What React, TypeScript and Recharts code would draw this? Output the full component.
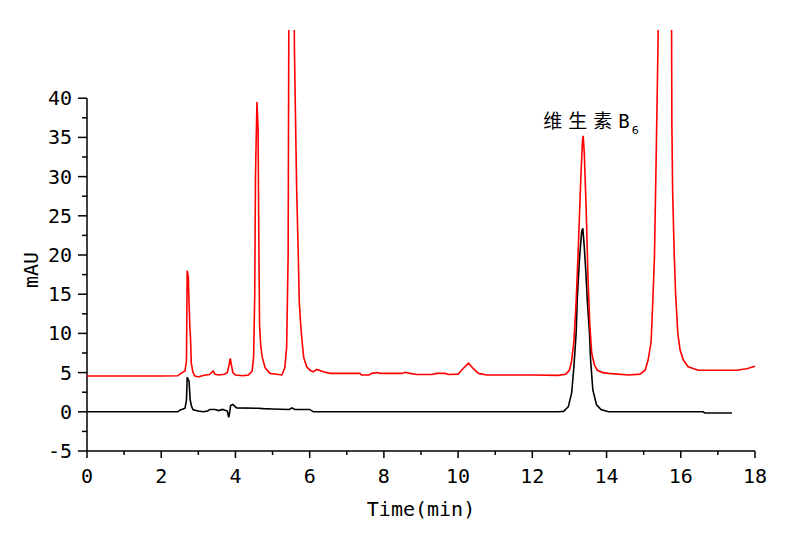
import React from "react";
import { LineChart, Line, XAxis, YAxis, ReferenceLine, ReferenceDot } from "recharts";

// Red trace (sample) — time in min, absorbance in mAU
const redTime = [0, 1.0, 2.0, 2.45, 2.5, 2.64, 2.68, 2.7, 2.73, 2.74, 2.77, 2.79, 2.81, 2.85, 2.9, 3.0, 3.1, 3.2, 3.3, 3.4, 3.45, 3.55, 3.7, 3.78, 3.83, 3.86, 3.89, 3.93, 4.0, 4.2, 4.35, 4.45, 4.49, 4.52, 4.54, 4.56, 4.58, 4.61, 4.63, 4.65, 4.68, 4.72, 4.8, 4.93, 5.1, 5.25, 5.33, 5.38, 5.42, 5.44, 5.5, 5.56, 5.59, 5.65, 5.69, 5.72, 5.76, 5.8, 5.84, 5.92, 6.01, 6.1, 6.19, 6.37, 6.55, 7.35, 7.4, 7.6, 7.67, 7.82, 7.9, 8.48, 8.57, 8.7, 8.88, 9.3, 9.42, 9.65, 9.74, 10.0, 10.13, 10.28, 10.41, 10.55, 10.77, 12.0, 12.7, 12.9, 13.0, 13.06, 13.12, 13.18, 13.24, 13.3, 13.35, 13.37, 13.4, 13.45, 13.5, 13.55, 13.6, 13.67, 13.75, 13.9, 14.05, 14.3, 14.6, 14.9, 15.04, 15.12, 15.2, 15.24, 15.29, 15.33, 15.38, 15.42, 15.55, 15.7, 15.75, 15.76, 15.78, 15.82, 15.86, 15.92, 15.98, 16.07, 16.2, 16.47, 17.5, 17.78, 17.95, 18.0];
const redValue = [4.57, 4.57, 4.57, 4.6, 4.8, 5.2, 6.5, 18.0, 17.2, 15.3, 11.0, 9.4, 6.2, 5.1, 4.6, 4.45, 4.6, 4.7, 4.75, 5.2, 4.8, 4.7, 4.8, 5.0, 6.0, 6.8, 6.0, 5.0, 4.7, 4.6, 4.7, 5.2, 7.0, 15, 30, 35, 39.5, 36, 22, 11, 8.5, 7.0, 5.6, 4.9, 4.8, 4.7, 5.6, 8.3, 20, 52, 70, 62, 46, 28.3, 20.6, 14, 11, 8.8, 6.9, 5.75, 5.3, 5.1, 5.4, 5.1, 4.9, 4.9, 4.7, 4.7, 4.9, 5.0, 4.9, 4.9, 5.05, 4.9, 4.75, 4.75, 4.9, 4.9, 4.75, 4.8, 5.5, 6.2, 5.5, 4.9, 4.7, 4.7, 4.65, 4.8, 5.3, 6.5, 9, 14, 21, 29, 34.5, 35.2, 33, 26, 17, 11, 7.5, 6, 5.3, 5.0, 4.9, 4.8, 4.7, 4.8, 5.3, 6.6, 8.9, 13.4, 19.6, 30.5, 44.9, 58, 80, 62, 52, 36.8, 28.3, 20.6, 15.1, 10.0, 7.9, 6.6, 5.75, 5.3, 5.3, 5.5, 5.75, 5.8];

// Black trace (standard)
const blackTime = [0, 2.45, 2.5, 2.64, 2.68, 2.7, 2.75, 2.78, 2.82, 2.86, 3.0, 3.13, 3.25, 3.31, 3.45, 3.55, 3.65, 3.72, 3.78, 3.82, 3.84, 3.87, 3.93, 4.03, 4.6, 4.75, 5.0, 5.45, 5.52, 5.6, 6.0, 6.1, 12.7, 12.84, 12.97, 13.06, 13.12, 13.18, 13.21, 13.27, 13.33, 13.36, 13.4, 13.44, 13.48, 13.54, 13.57, 13.63, 13.73, 13.85, 14.05, 16.6, 16.65, 17.38];
const blackValue = [0, 0, 0.2, 0.45, 1.5, 4.4, 3.9, 1.5, 0.65, 0.25, 0.1, 0, 0.1, 0.3, 0.3, 0.15, 0.3, 0.2, 0.1, -0.7, -0.2, 0.8, 0.95, 0.5, 0.45, 0.4, 0.35, 0.3, 0.5, 0.3, 0.3, 0, 0, 0.05, 0.65, 2.4, 5.75, 10, 14.3, 19.5, 23, 23.4, 21, 18, 14.3, 10, 6.6, 2.8, 0.9, 0.3, 0, 0, -0.15, -0.15];

const xTicks = [0, 1, 2, 3, 4, 5, 6, 7, 8, 9, 10, 11, 12, 13, 14, 15, 16, 17, 18];
const yTicks = [-5, -2.5, 0, 2.5, 5, 7.5, 10, 12.5, 15, 17.5, 20, 22.5, 25, 27.5, 30, 32.5, 35, 37.5, 40];
const xDomain = [0, 18];
const yDomain = [-5, 48.7];
const yAxisTop = 40;
const peakLabel = { t: 13.37, v: 35.2, name: "维生素B", sub: "6" };

const redData = redTime.map((t, i) => ({ t, v: redValue[i] }));
const blackData = blackTime.map((t, i) => ({ t, v: blackValue[i] }));

const FONT = "'DejaVu Sans Mono', monospace";

const XTick = (props: any) => {
  const { x, y, payload } = props;
  const major = payload.value % 2 === 0;
  return (
    <g>
      <line x1={x} y1={y} x2={x} y2={y + (major ? 7 : 4)} stroke="#000" strokeWidth={1.5} />
      {major && (
        <text x={x} y={y + 32} textAnchor="middle" fontFamily={FONT} fontSize={20} fill="#000">
          {payload.value}
        </text>
      )}
    </g>
  );
};

const YTick = (props: any) => {
  const { x, y, payload } = props;
  const major = payload.value % 5 === 0;
  return (
    <g>
      <line x1={x - (major ? 9 : 5)} y1={y} x2={x} y2={y} stroke="#000" strokeWidth={1.5} />
      {major && (
        <text x={x - 15} y={y + 7} textAnchor="end" fontFamily={FONT} fontSize={20} fill="#000">
          {payload.value}
        </text>
      )}
    </g>
  );
};

const YLabel = (props: any) => {
  const { viewBox } = props;
  const cx = viewBox.x + 31;
  const cy = viewBox.y + viewBox.height * 0.57;
  return (
    <text x={cx} y={cy} transform={`rotate(-90, ${cx}, ${cy})`} textAnchor="middle" dominantBaseline="central" fontFamily={FONT} fontSize={20} fill="#000">
      mAU
    </text>
  );
};

const XLabel = (props: any) => {
  const { viewBox } = props;
  return (
    <text x={viewBox.x + viewBox.width / 2} y={viewBox.y + 65} textAnchor="middle" fontFamily={FONT} fontSize={20} fill="#000">
      Time(min)
    </text>
  );
};

const PeakLabel = (props: any) => {
  const { viewBox } = props;
  const cx = viewBox.x + viewBox.width / 2;
  const cy = viewBox.y + viewBox.height / 2;
  return (
    <text x={cx - 40} y={cy - 8} fontFamily="'Noto Sans CJK SC', sans-serif" fontSize={19} fill="#000">
      <tspan letterSpacing={6}>{peakLabel.name.slice(0, 3)}</tspan>
      <tspan fontFamily={FONT}>{peakLabel.name.slice(3)}</tspan>
      <tspan fontSize={11} dx={2} dy={6} fontFamily="'DejaVu Sans', sans-serif">{peakLabel.sub}</tspan>
    </text>
  );
};

export default function App() {
  return (
    <div style={{ position: "absolute", left: 0, top: 0, background: "#fff" }}>
      <LineChart width={800} height={551} margin={{ top: 30, right: 45, bottom: 30, left: 0 }}>
        <XAxis
          type="number"
          dataKey="t"
          domain={xDomain}
          ticks={xTicks}
          interval={0}
          allowDataOverflow
          tickSize={0}
          tickMargin={0}
          tickLine={false}
          tick={<XTick />}
          axisLine={{ stroke: "#000", strokeWidth: 1.5 }}
          height={70}
          label={<XLabel />}
        />
        <YAxis
          type="number"
          dataKey="v"
          domain={yDomain}
          ticks={yTicks}
          interval={0}
          allowDataOverflow
          tickSize={0}
          tickMargin={0}
          tickLine={false}
          tick={<YTick />}
          axisLine={false}
          width={87}
          label={<YLabel />}
        />
        <ReferenceLine
          segment={[{ x: xDomain[0], y: yDomain[0] }, { x: xDomain[0], y: yAxisTop }]}
          stroke="#000"
          strokeWidth={1.5}
        />
        <Line data={blackData} dataKey="v" type="linear" stroke="#000" strokeWidth={1.6} dot={false} isAnimationActive={false} />
        <Line data={redData} dataKey="v" type="linear" stroke="#ff0000" strokeWidth={1.6} dot={false} isAnimationActive={false} />
        <ReferenceDot x={peakLabel.t} y={peakLabel.v} r={0} fill="none" stroke="none" label={<PeakLabel />} />
      </LineChart>
    </div>
  );
}
